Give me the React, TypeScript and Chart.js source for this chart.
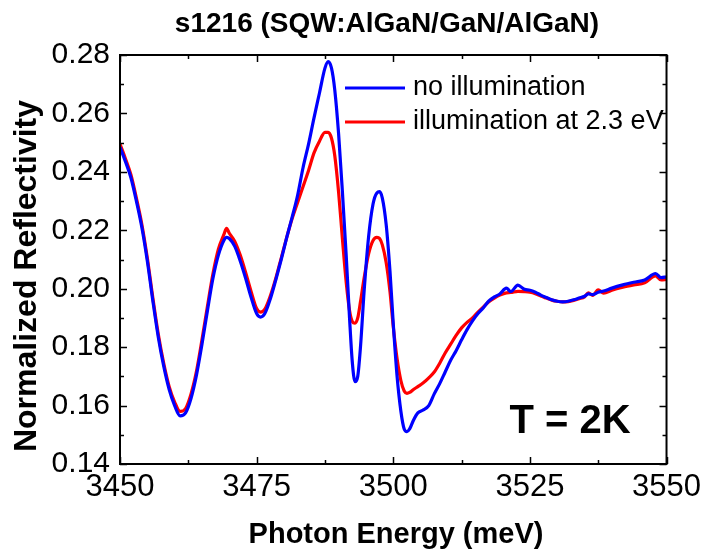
import React, { useEffect, useRef } from "react";
import { Chart, registerables } from "chart.js";

Chart.register(...registerables);

// Photon energy (meV)
const energy = [
  3450, 3451, 3452, 3453, 3454, 3455, 3456, 3457, 3458, 3459,
  3460, 3461, 3462, 3463, 3464, 3465, 3466, 3467, 3468, 3469,
  3469.5, 3470, 3471, 3472, 3473, 3474, 3475, 3475.7, 3476.5, 3477.5,
  3478.5, 3479.5, 3480.5, 3481.5, 3482.5, 3483.5, 3484.5, 3485.5, 3486.5, 3487.5,
  3488.1, 3488.7, 3489.3, 3490, 3490.7, 3491.4, 3492, 3492.5, 3493, 3493.5,
  3494, 3494.7, 3495.5, 3496.3, 3497, 3497.5, 3498, 3498.7, 3499.4, 3500,
  3500.7, 3501.4, 3502, 3502.5, 3503, 3503.7, 3504.5, 3505.5, 3506.5, 3507.5,
  3508.5, 3509.5, 3510.5, 3511.5, 3512.5, 3513.5, 3514.5, 3515.5, 3516.5, 3517.5,
  3518.5, 3519.5, 3520.7, 3521.5, 3522.8, 3524, 3525, 3526, 3527, 3528,
  3529, 3530, 3531, 3532, 3533, 3534, 3535, 3535.7, 3536.5, 3537.5,
  3538.5, 3540, 3542, 3544, 3546, 3548, 3549, 3550,
];

// Normalized reflectivity, no illumination (blue)
const noIllumination = [
  0.2485, 0.2435, 0.238, 0.23, 0.221, 0.2095, 0.196, 0.1835, 0.1735, 0.1655,
  0.16, 0.1565, 0.1575, 0.1625, 0.1705, 0.181, 0.1925, 0.2035, 0.2115, 0.2165,
  0.2176, 0.2172, 0.2145, 0.2095, 0.2035, 0.197, 0.1915, 0.1903, 0.1915, 0.1965,
  0.203, 0.21, 0.2175, 0.2245, 0.232, 0.2415, 0.2495, 0.2585, 0.267, 0.2755,
  0.2777, 0.2755, 0.268, 0.253, 0.233, 0.211, 0.19, 0.175, 0.1682, 0.17,
  0.18, 0.2, 0.218, 0.229, 0.2328, 0.2332, 0.231, 0.222, 0.206, 0.188,
  0.17, 0.158, 0.152, 0.1511, 0.152, 0.155, 0.1575, 0.1585, 0.16, 0.164,
  0.1675, 0.1715, 0.1755, 0.1788, 0.1825, 0.186, 0.189, 0.1915, 0.1935, 0.1958,
  0.1972, 0.1982, 0.2002, 0.199, 0.2012, 0.1998, 0.1995, 0.1988, 0.1978, 0.197,
  0.1962, 0.1957, 0.1955, 0.1957, 0.1962, 0.1968, 0.1974, 0.1982, 0.198, 0.1988,
  0.1992, 0.2002, 0.2013, 0.2022, 0.203, 0.2052, 0.2038, 0.2041,
];

// Normalized reflectivity, illumination at 2.3 eV (red)
const illumination = [
  0.2495, 0.2445, 0.239, 0.231, 0.222, 0.2105, 0.197, 0.1845, 0.1745, 0.1665,
  0.1612, 0.158, 0.159, 0.164, 0.1718, 0.1825, 0.194, 0.205, 0.2135, 0.2185,
  0.2207, 0.219, 0.2162, 0.2115, 0.2055, 0.199, 0.1932, 0.192, 0.193, 0.1975,
  0.2035, 0.2105, 0.2175, 0.224, 0.2295, 0.235, 0.2405, 0.2465, 0.2505, 0.2535,
  0.2535, 0.2515, 0.2455, 0.233, 0.217, 0.202, 0.1925, 0.1888, 0.1882, 0.19,
  0.1955, 0.204, 0.212, 0.2165, 0.2176, 0.2172, 0.215, 0.209, 0.199, 0.187,
  0.176, 0.1685, 0.165, 0.1642, 0.1645, 0.1655, 0.1665, 0.1678, 0.1695, 0.1715,
  0.1745, 0.178, 0.181, 0.184, 0.1866, 0.1885, 0.19, 0.192, 0.1938, 0.1955,
  0.1968, 0.1978, 0.1986, 0.1987, 0.1991, 0.199, 0.1988, 0.1983, 0.1975, 0.1968,
  0.1961, 0.1957, 0.1955, 0.1956, 0.196, 0.1966, 0.1972, 0.1986, 0.1977, 0.1996,
  0.1985, 0.1995, 0.2005, 0.2013, 0.202, 0.2044, 0.203, 0.2032,
];

const xTickValues = [3450, 3475, 3500, 3525, 3550];
const yTickValues = [0.14, 0.16, 0.18, 0.2, 0.22, 0.24, 0.26, 0.28];
const xMinorStep = 12.5;
const yMinorStep = 0.01;

const seriesLabels = ["no illumination", "illumination at 2.3 eV"];
const seriesColors = ["#0000ff", "#ff0000"];
const chartTitle = "s1216 (SQW:AlGaN/GaN/AlGaN)";
const xTitle = "Photon Energy (meV)";
const yTitle = "Normalized Reflectivity";
const annotation = "T = 2K";

const FONT = "'Liberation Sans', Arial, Helvetica, sans-serif";

const decorPlugin = {
  id: "decor",
  afterDraw(chart: any) {
    const { ctx, chartArea, scales } = chart;
    const { left, right, top, bottom } = chartArea;
    const xs = scales.x;
    const ys = scales.y;
    ctx.save();
    // frame
    ctx.strokeStyle = "#000";
    ctx.lineWidth = 2;
    ctx.strokeRect(left, top, right - left, bottom - top);
    // ticks (inward)
    ctx.lineWidth = 1.5;
    ctx.beginPath();
    const xMin = xs.min, xMax = xs.max;
    for (let i = 0; xMin + i * xMinorStep <= xMax + 1e-9; i++) {
      const v = xMin + i * xMinorStep;
      const px = Math.round(xs.getPixelForValue(v)) + 0.5;
      const len = i % 2 === 0 ? 7 : 4;
      ctx.moveTo(px, bottom);
      ctx.lineTo(px, bottom - len);
      ctx.moveTo(px, top);
      ctx.lineTo(px, top + len);
    }
    const yMin = ys.min, yMax = ys.max;
    for (let i = 0; yMin + i * yMinorStep <= yMax + 1e-9; i++) {
      const v = yMin + i * yMinorStep;
      const py = Math.round(ys.getPixelForValue(v)) + 0.5;
      const len = i % 2 === 0 ? 7 : 4;
      ctx.moveTo(left, py);
      ctx.lineTo(left + len, py);
      ctx.moveTo(right, py);
      ctx.lineTo(right - len, py);
    }
    ctx.stroke();

    // texts
    ctx.fillStyle = "#000";
    ctx.textBaseline = "middle";
    ctx.textAlign = "center";
    ctx.font = `bold 28px ${FONT}`;
    ctx.fillText(chartTitle, 387, 24);
    ctx.font = `bold 29px ${FONT}`;
    ctx.fillText(xTitle, 396, 535);
    ctx.save();
    ctx.translate(27, 276);
    ctx.rotate(-Math.PI / 2);
    ctx.font = `bold 32px ${FONT}`;
    ctx.fillText(yTitle, 0, 0);
    ctx.restore();

    ctx.font = `bold 40px ${FONT}`;
    ctx.fillText(annotation, 570, 422);

    // legend
    const legendY = [88, 122];
    ctx.textAlign = "left";
    ctx.font = `27px ${FONT}`;
    for (let i = 0; i < seriesLabels.length; i++) {
      ctx.strokeStyle = seriesColors[i];
      ctx.lineWidth = 3;
      ctx.beginPath();
      ctx.moveTo(345, legendY[i]);
      ctx.lineTo(405, legendY[i]);
      ctx.stroke();
      ctx.fillText(seriesLabels[i], 413, legendY[i]);
    }
    ctx.restore();
  },
};

export default function App() {
  const canvasRef = useRef<HTMLCanvasElement | null>(null);

  useEffect(() => {
    document.body.style.margin = "0";
    const canvas = canvasRef.current;
    if (!canvas) return;
    const chart = new Chart(canvas, {
      type: "line",
      data: {
        datasets: [
          {
            label: seriesLabels[0],
            data: energy.map((e, i) => ({ x: e, y: noIllumination[i] })),
            borderColor: seriesColors[0],
            borderWidth: 3.2,
            pointRadius: 0,
            cubicInterpolationMode: "monotone",
            fill: false,
          },
          {
            label: seriesLabels[1],
            data: energy.map((e, i) => ({ x: e, y: illumination[i] })),
            borderColor: seriesColors[1],
            borderWidth: 3.2,
            pointRadius: 0,
            cubicInterpolationMode: "monotone",
            fill: false,
          },
        ],
      },
      options: {
        responsive: false,
        animation: false,
        devicePixelRatio: 1,
        layout: { padding: { top: 55, right: 39, left: 0, bottom: 0 } },
        plugins: {
          legend: { display: false },
          title: { display: false },
          tooltip: { enabled: false },
        },
        scales: {
          x: {
            type: "linear",
            min: 3450,
            max: 3550,
            afterBuildTicks: (scale: any) => {
              scale.ticks = xTickValues.map((v) => ({ value: v }));
            },
            afterFit: (scale: any) => {
              scale.height = 90;
            },
            grid: { display: false, drawTicks: false },
            border: { display: false },
            ticks: {
              color: "#000",
              padding: 5,
              maxRotation: 0,
              font: { family: FONT, size: 31 },
              callback: (v: any) => String(v),
            },
          },
          y: {
            type: "linear",
            min: 0.14,
            max: 0.28,
            afterBuildTicks: (scale: any) => {
              scale.ticks = yTickValues.map((v) => ({ value: v }));
            },
            afterFit: (scale: any) => {
              scale.width = 120;
            },
            grid: { display: false, drawTicks: false },
            border: { display: false },
            ticks: {
              color: "#000",
              padding: 10,
              font: { family: FONT, size: 30 },
              callback: (v: any) => Number(v).toFixed(2),
            },
          },
        },
      },
      plugins: [decorPlugin],
    } as any);
    return () => chart.destroy();
  }, []);

  return (
    <div style={{ width: 706, height: 554 }}>
      <canvas ref={canvasRef} width={706} height={554} style={{ display: "block" }} />
    </div>
  );
}
